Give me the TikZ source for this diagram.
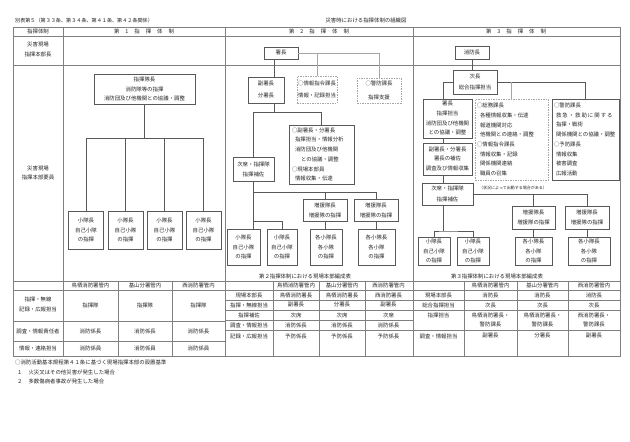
\documentclass[tikz,border=0pt]{standalone}
\usepackage{fontspec}
\setmainfont{Noto Sans CJK JP}
\newcommand\fsz{\fontsize{5.4}{9.7}\selectfont}
\newcommand\taisei[1]{第\hspace{6pt}#1\hspace{6pt}指\hspace{6pt}揮\hspace{6pt}体\hspace{6pt}制}
\begin{document}
\begin{tikzpicture}[x=1pt,y=-1pt,
  tx/.style={inner sep=0pt, font=\fsz, text=black!85, align=center},
  bx/.style={draw=black!65, line width=0.5pt, inner sep=0.5pt, align=center, font=\fsz, text=black!85},
  dbx/.style={bx, draw=black!35, dash pattern=on 1.5pt off 1pt},
  fr/.style={draw=black!50, line width=0.6pt},
  ln/.style={draw=black!65, line width=0.5pt},
  gln/.style={draw=black!35, line width=0.5pt},
]
\useasboundingbox[fill=white] (0,0) rectangle (630,442);

% ---------- titles ----------
\node[tx, anchor=west, font=\fontsize{5.1}{8}\selectfont] (title) at (15,20.5) {別表第５（第３３条、第３４条、第４１条、第４２条関係）};
\node[tx] (subtitle) at (366,20.5) {災害時における指揮体制の組織図};

% ---------- frame ----------
\draw[fr] (13,27) rectangle (620,356);
\draw[fr] (13,36) -- (620,36);
\draw[fr] (13,65) -- (620,65);
\draw[fr] (13,281) -- (620,281);
\draw[fr] (63,27) -- (63,356);
\draw[fr] (225,27) -- (225,356);
\draw[fr] (413,27) -- (413,356);
% col1 table
\draw[fr] (118,281) -- (118,356) (172,281) -- (172,356);
\draw[fr] (13,290) -- (225,290) (13,321) -- (225,321) (13,341) -- (225,341);
% col2 table
\draw[fr] (273,281) -- (273,356) (319,281) -- (319,356) (365,281) -- (365,356);
\foreach \yy in {290,300,310,320,330} {\draw[fr] (225,\yy) -- (413,\yy);}
% col3 table
\draw[fr] (464,281) -- (464,356) (517,281) -- (517,356) (568,281) -- (568,356);
\foreach \yy in {290,300,310,330} {\draw[fr] (413,\yy) -- (620,\yy);}

% ---------- header ----------
\node[tx] (h0) at (38,31.5) {指揮体制};
\node[tx] (h1) at (144,31.5) {\taisei{1}};
\node[tx] (h2) at (319,31.5) {\taisei{2}};
\node[tx] (h3) at (516,31.5) {\taisei{3}};
\node[tx, font=\fontsize{5.4}{9.5}\selectfont] (r2) at (38,49.5) {災害現場\\指揮本部長};
\node[tx, font=\fontsize{5.4}{9.5}\selectfont] (r3) at (38,173) {災害現場\\指揮本部要員};

% ---------- column 1 chart ----------
\node[bx, minimum width=101pt, minimum height=30pt] (k1) at (144.5,89) {指揮隊長\\消防隊等の指揮\\消防団及び他機関との協議・調整};
\node[bx, minimum width=35pt, minimum height=38pt] (q1) at (86,230) {小隊長\\自己小隊\\の指揮};
\node[bx, minimum width=35pt, minimum height=38pt] (q2) at (125.5,230) {小隊長\\自己小隊\\の指揮};
\node[bx, minimum width=35pt, minimum height=38pt] (q3) at (164.5,230) {小隊長\\自己小隊\\の指揮};
\node[bx, minimum width=35pt, minimum height=38pt] (q4) at (203.5,230) {小隊長\\自己小隊\\の指揮};
\coordinate (b1) at (145,138);
\draw[ln] (k1.south) -- (k1.south |- b1);
\draw[ln] (q1.north) |- (q4.north |- b1) -- (q4.north);
\draw[ln] (q2.north) -- (q2.north |- b1);
\draw[ln] (q3.north) -- (q3.north |- b1);

% ---------- column 2 chart ----------
\node[bx, minimum width=34pt, minimum height=12pt] (s2) at (281,53) {署長};
\node[bx, font=\fontsize{5.4}{12}\selectfont, minimum width=36pt, minimum height=26pt] (f2) at (266,90) {副署長\\分署長};
\node[dbx, font=\fontsize{5.4}{12}\selectfont, minimum width=40pt, minimum height=27pt] (j2) at (317,89.5) {○情報指令課長\\情報・記録担当};
\node[dbx, font=\fontsize{5.4}{13.5}\selectfont, minimum width=44pt, minimum height=25pt] (p2) at (379,90.5) {○警防課長\\指揮支援};
\coordinate (m2) at (274,112);
\draw[ln] (s2.south -| m2) -- (f2.north -| m2);
\draw[gln] (s2.east) -| (p2.north);
\draw[gln] (s2.east -| j2.north) -- (j2.north);
\node[bx, text width=59pt, inner xsep=3pt, align=left, minimum height=59pt] (b2) at (321.5,154.5) {○副署長・分署長\\\hspace*{3pt}指揮担当・情報分析\\\hspace*{3pt}消防団及び他機関\\\hspace*{9pt}との協議・調整\\○現場本部員\\\hspace*{3pt}情報収集・伝達};
\node[bx, font=\fontsize{5.4}{10}\selectfont, minimum width=41pt, minimum height=24pt] (ji2) at (253.5,169) {次席・指揮隊\\指揮補佐};
\draw[ln] (f2.south -| m2) -- (m2);
\draw[ln] (ji2.north) |- (b2.north |- m2) -- (b2.north);
\node[bx, font=\fontsize{5.4}{10}\selectfont, minimum width=44pt, minimum height=22pt] (z2a) at (325,210) {増援隊長\\増援隊の指揮};
\node[bx, font=\fontsize{5.4}{10}\selectfont, minimum width=44pt, minimum height=22pt] (z2b) at (376,210) {増援隊長\\増援隊の指揮};
\node[bx, minimum width=33pt, minimum height=36pt] (q2a) at (243.5,247) {小隊長\\自己小隊\\の指揮};
\node[bx, minimum width=30pt, minimum height=36pt] (q2b) at (282,247) {小隊長\\自己小隊\\の指揮};
\node[bx, minimum width=32pt, minimum height=36pt] (k2a) at (326,247) {各小隊長\\各小隊\\の指揮};
\node[bx, minimum width=37pt, minimum height=36pt] (k2b) at (376.5,247) {各小隊長\\各小隊\\の指揮};
\coordinate (m2b) at (0,192);
\coordinate (m2c) at (0,221);
\draw[ln] (ji2.south) -- (ji2.south |- q2a.north);
\draw[ln] (ji2.south |- m2b) -| (z2b.north);
\draw[ln] (z2a.north |- m2b) -- (z2a.north);
\draw[ln] (ji2.south |- m2c) -| (q2b.north);
\draw[ln] (z2a.south) -- (z2a.south |- k2a.north);
\draw[ln] (z2b.south) -- (z2b.south |- k2b.north);
\node[tx] (cap2) at (305,276) {第２指揮体制における現場本部編成表};

% ---------- column 3 chart ----------
\node[bx, minimum width=34pt, minimum height=13pt] (s3) at (472,52.5) {消防長};
\node[bx, font=\fontsize{5.4}{11}\selectfont, minimum width=44pt, minimum height=24pt] (j3) at (475,82) {次長\\総合指揮担当};
\node[bx, minimum width=49pt, minimum height=39pt] (h3b) at (447.5,118.5) {署長\\指揮担当\\消防団及び他機関\\との協議・調整};
\node[bx, minimum width=49pt, minimum height=32pt] (f3) at (447.5,159) {副署長・分署長\\署長の補佐\\調査及び情報収集};
\node[bx, font=\fontsize{5.4}{10.5}\selectfont, minimum width=51pt, minimum height=22pt] (n3) at (447.5,194) {次席・指揮隊\\指揮補佐};
\node[dbx, text width=69pt, inner xsep=2pt, inner ysep=1pt, align=left, minimum height=81pt] (g3) at (511.5,139.5) {○総務課長\\\hspace*{3pt}各種情報収集・伝達\\\hspace*{3pt}報道機関対応\\\hspace*{3pt}他機関との連絡・調整\\○情報指令課長\\\hspace*{3pt}情報収集・記録\\\hspace*{3pt}関係機関連絡\\\hspace*{3pt}職員の召集};
\node[bx, text width=63pt, inner xsep=2pt, inner ysep=1pt, align=left, minimum height=81pt] (p3) at (585.5,139.5) {○警防課長\\\hspace*{2pt}救\hspace{1pt}急\hspace{1pt}・\hspace{1pt}救\hspace{1pt}助\hspace{1pt}に\hspace{1pt}関\hspace{1pt}す\hspace{1pt}る\\\hspace*{2pt}指揮・戦術\\\hspace*{2pt}関係機関との協議・調整\\○予防課長\\\hspace*{2pt}情報収集\\\hspace*{2pt}被害調査\\\hspace*{2pt}広報活動};
\node[tx, font=\fontsize{4}{5}\selectfont] (note3) at (513,188) {（状況によって出動する場合がある）};
\node[bx, font=\fontsize{5.4}{10}\selectfont, minimum width=43pt, minimum height=23pt] (z3a) at (533.5,217.5) {増援隊長\\増援隊の指揮};
\node[bx, font=\fontsize{5.4}{10}\selectfont, minimum width=44pt, minimum height=23pt] (z3b) at (587,217.5) {増援隊長\\増援隊の指揮};
\node[bx, minimum width=32pt, minimum height=28pt] (q3a) at (434,251) {小隊長\\自己小隊\\の指揮};
\node[bx, minimum width=32pt, minimum height=28pt] (q3b) at (473,251) {小隊長\\自己小隊\\の指揮};
\node[bx, minimum width=37pt, minimum height=28pt] (k3a) at (533.5,251) {各小隊長\\各小隊\\の指揮};
\node[bx, minimum width=42pt, minimum height=28pt] (k3b) at (589,251) {各小隊長\\各小隊\\の指揮};
\coordinate (sp3) at (443,0);
\coordinate (m3) at (443,231);
\draw[ln] (s3.south) -- (s3.south |- j3.north);
\draw[ln] (j3.west) -| (sp3 |- h3b.north);
\draw[ln] (j3.east) -| (p3.north);
\draw[gln] (j3.east -| g3.north) -- (g3.north);
\draw[ln] (h3b.south -| sp3) -- (f3.north -| sp3);
\draw[ln] (f3.south -| sp3) -- (n3.north -| sp3);
\draw[ln] (n3.south -| sp3) -- (m3);
\draw[ln] (q3a.north) |- (m3) -| (q3b.north);
\draw[ln] (n3.east) -| (z3b.north);
\draw[ln] (n3.east -| z3a.north) -- (z3a.north);
\draw[ln] (z3a.south) -- (z3a.south |- k3a.north);
\draw[ln] (z3b.south) -- (z3b.south |- k3b.north);
\node[tx] (cap3) at (497,276) {第３指揮体制における現場本部編成表};

% ---------- column 1 table ----------
\node[tx] (t1h1) at (90.5,285.5) {鳥栖消防署管内};
\node[tx] (t1h2) at (145,285.5) {基山分署管内};
\node[tx] (t1h3) at (198.5,285.5) {西消防署管内};
\node[tx, font=\fontsize{5.4}{10}\selectfont] (t1r1) at (38,304) {指揮・無線\\記録・広報担当};
\node[tx] (t1a1) at (90.5,305.5) {指揮隊};
\node[tx] (t1a2) at (145,305.5) {指揮隊};
\node[tx] (t1a3) at (198.5,305.5) {指揮隊};
\node[tx] (t1r2) at (38,331) {調査・情報責任者};
\node[tx] (t1b1) at (90.5,331) {消防係長};
\node[tx] (t1b2) at (145,331) {消防係長};
\node[tx] (t1b3) at (198.5,331) {消防係長};
\node[tx] (t1r3) at (38,348.5) {情報・連絡担当};
\node[tx] (t1c1) at (90.5,348.5) {消防係員};
\node[tx] (t1c2) at (145,348.5) {消防係員};
\node[tx] (t1c3) at (198.5,348.5) {消防係員};

% ---------- column 2 table ----------
\node[tx] (t2h1) at (296,285.5) {鳥栖消防署管内};
\node[tx] (t2h2) at (342,285.5) {基山分署管内};
\node[tx] (t2h3) at (388.5,285.5) {西消防署管内};
\node[tx] (t2r1) at (249,295) {現場本部長};
\node[tx] (t2a1) at (296,295) {鳥栖消防署長};
\node[tx] (t2a2) at (342,295) {鳥栖消防署長};
\node[tx] (t2a3) at (388.5,295) {西消防署長};
\node[tx] (t2r2) at (249,305) {指揮・無線担当};
\node[tx] (t2b1) at (296,305) {副署長};
\node[tx] (t2b2) at (342,305) {分署長};
\node[tx] (t2b3) at (388.5,305) {副署長};
\node[tx] (t2r3) at (249,315) {指揮補佐};
\node[tx] (t2c1) at (296,315) {次席};
\node[tx] (t2c2) at (342,315) {次席};
\node[tx] (t2c3) at (388.5,315) {次席};
\node[tx] (t2r4) at (249,325) {調査・情報担当};
\node[tx] (t2d1) at (296,325) {消防係長};
\node[tx] (t2d2) at (342,325) {消防係長};
\node[tx] (t2d3) at (388.5,325) {消防係長};
\node[tx] (t2r5) at (249,336) {記録・広報担当};
\node[tx] (t2e1) at (296,336) {予防係長};
\node[tx] (t2e2) at (342,336) {予防係長};
\node[tx] (t2e3) at (388.5,336) {予防係長};

% ---------- column 3 table ----------
\node[tx] (t3h1) at (490.5,285.5) {鳥栖消防署管内};
\node[tx] (t3h2) at (542.5,285.5) {基山分署管内};
\node[tx] (t3h3) at (594,285.5) {西消防署管内};
\node[tx] (t3r1) at (438.5,295) {現場本部長};
\node[tx] (t3a1) at (490.5,295) {消防長};
\node[tx] (t3a2) at (542.5,295) {消防長};
\node[tx] (t3a3) at (594,295) {消防長};
\node[tx] (t3r2) at (438.5,305) {総合指揮担当};
\node[tx] (t3b1) at (490.5,305) {次長};
\node[tx] (t3b2) at (542.5,305) {次長};
\node[tx] (t3b3) at (594,305) {次長};
\node[tx] (t3r3) at (438.5,315) {指揮担当};
\node[tx] (t3c1) at (490.5,320) {鳥栖消防署長・\\警防課長};
\node[tx] (t3c2) at (542.5,320) {鳥栖消防署長・\\警防課長};
\node[tx] (t3c3) at (594,320) {西消防署長・\\警防課長};
\node[tx] (t3r4) at (438.5,336) {調査・情報担当};
\node[tx] (t3d1) at (490.5,336) {副署長};
\node[tx] (t3d2) at (542.5,336) {分署長};
\node[tx] (t3d3) at (594,336) {副署長};

% ---------- notes ----------
\node[tx, anchor=west] (nt1) at (15,362) {○消防活動基本規程第４１条に基づく現場指揮本部の設置基準};
\node[tx, anchor=west] (nt2) at (17,372) {１\hspace{6pt}火災又はその他災害が発生した場合};
\node[tx, anchor=west] (nt3) at (17,381.5) {２\hspace{6pt}多数傷病者事故が発生した場合};
\end{tikzpicture}
\end{document}
